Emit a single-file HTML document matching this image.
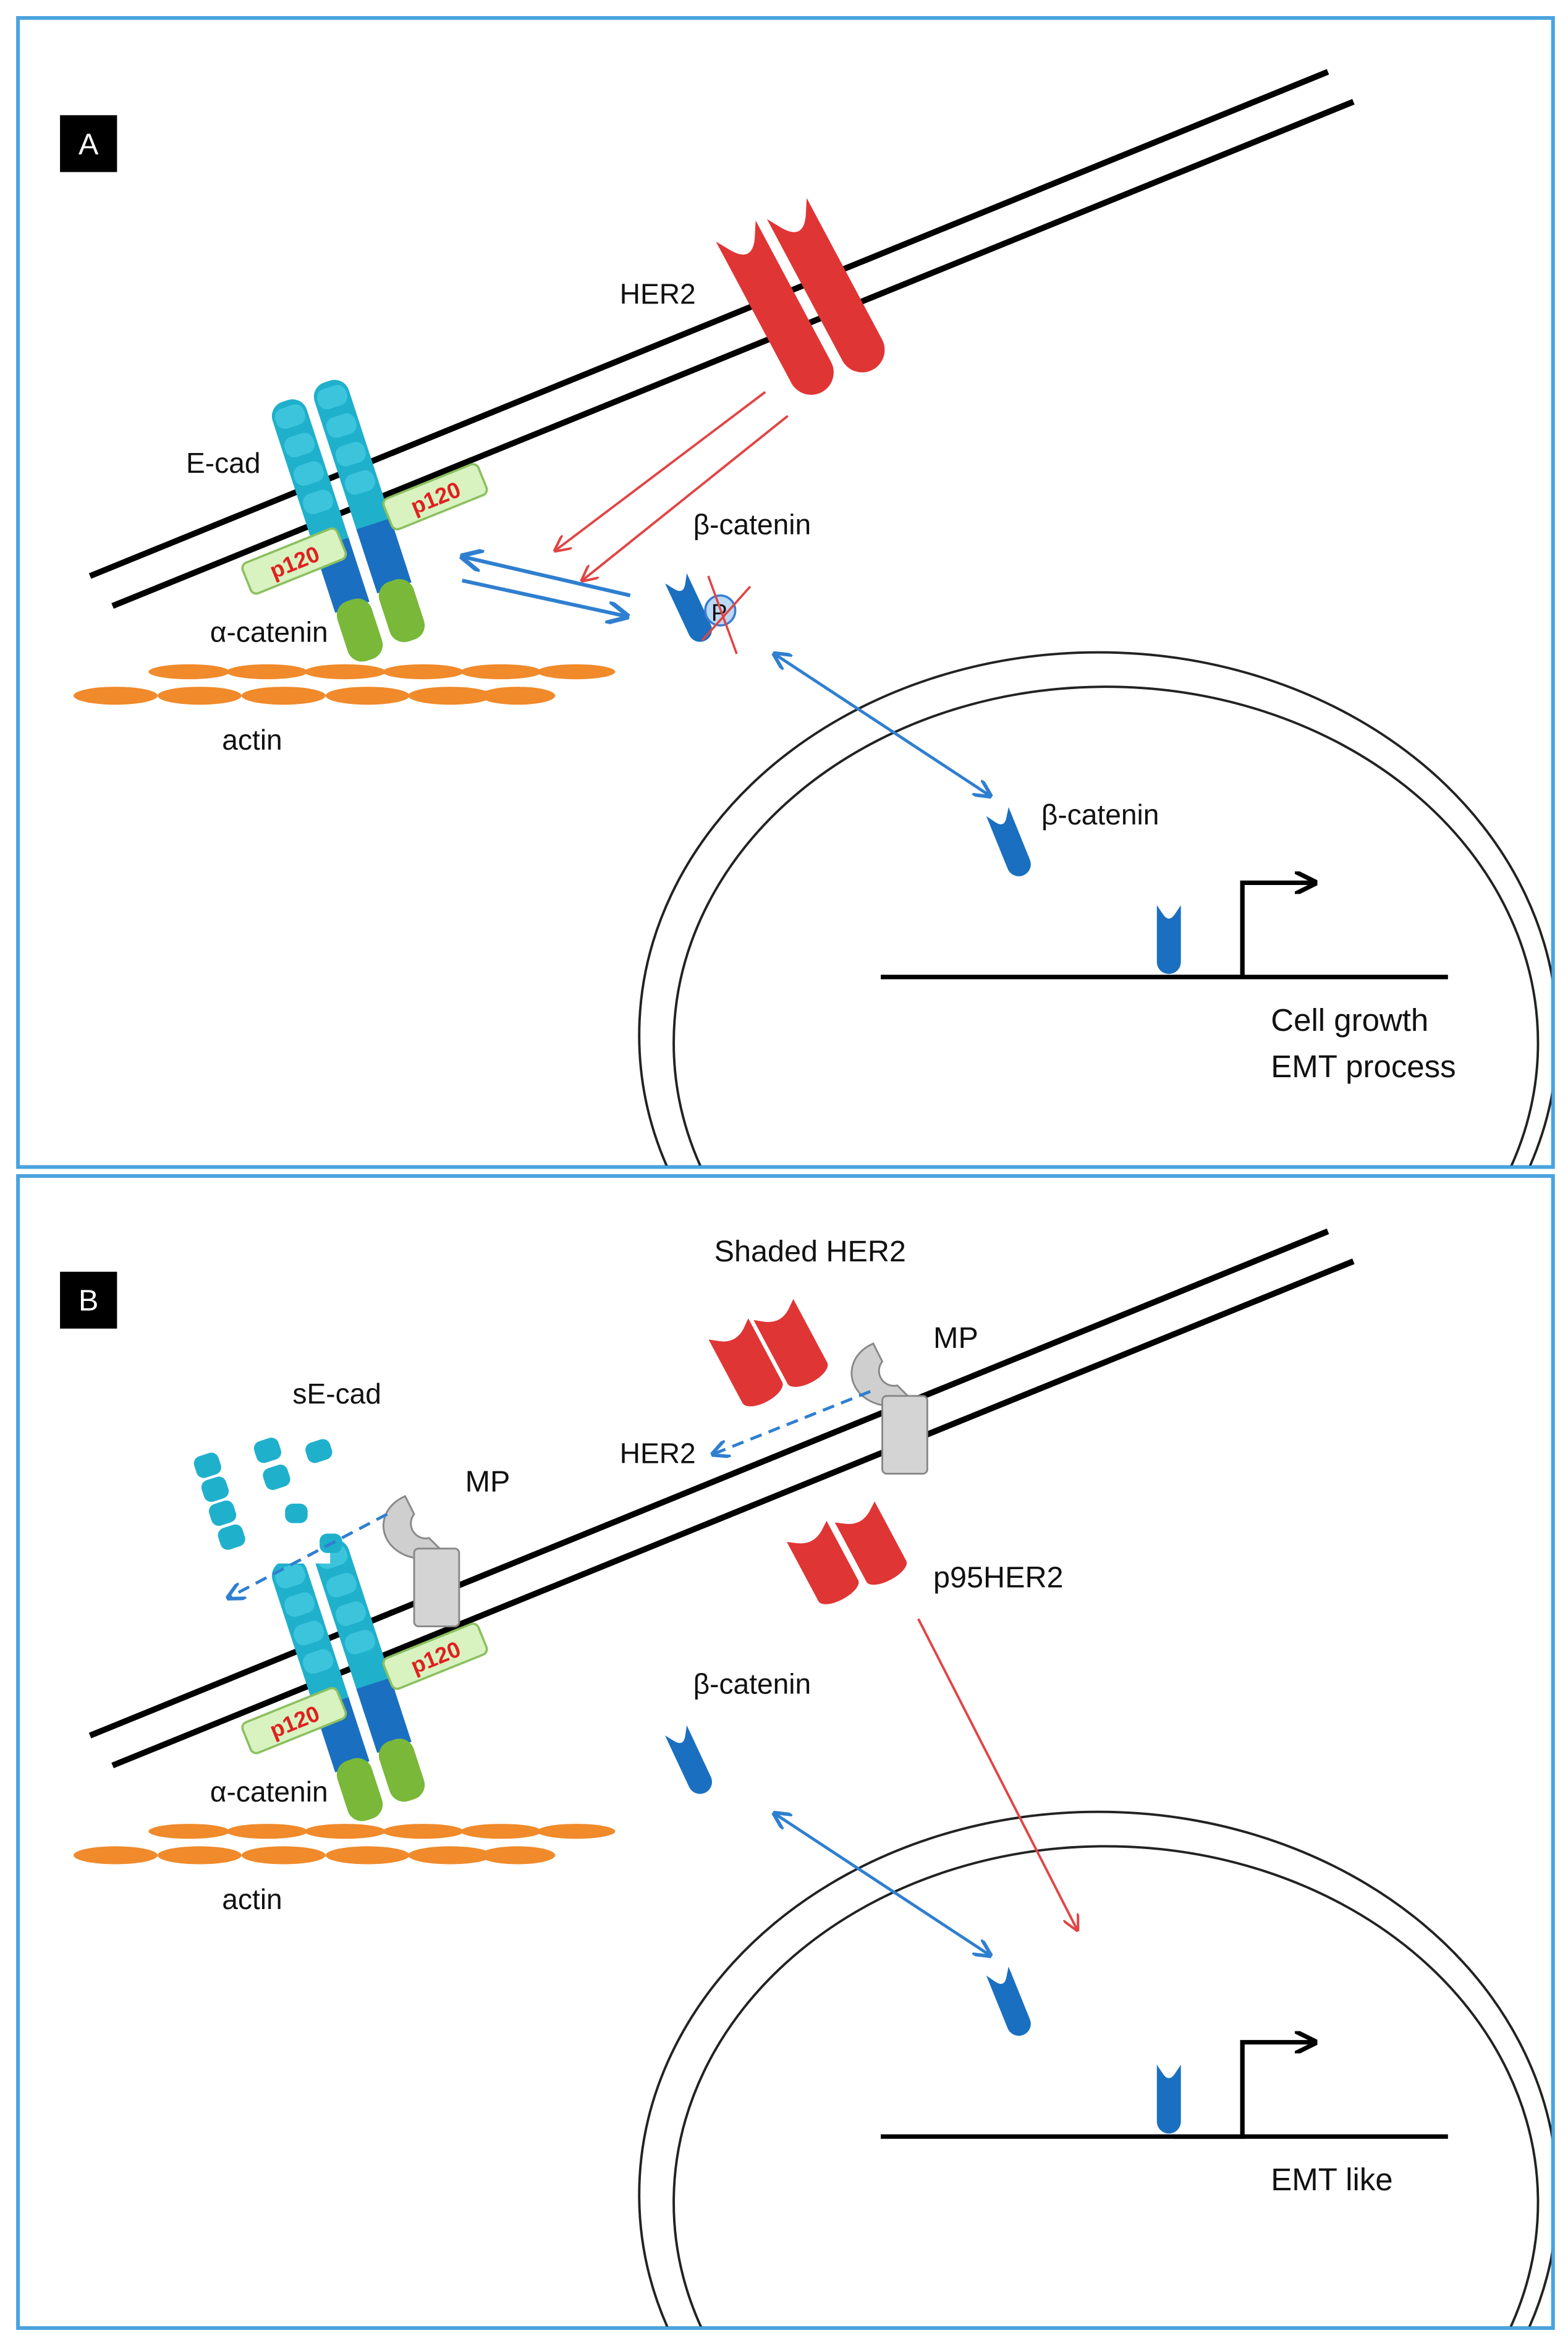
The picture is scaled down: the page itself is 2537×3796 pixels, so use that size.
<!DOCTYPE html>
<html><head><meta charset="utf-8"><style>html,body{margin:0;padding:0;background:#fff;width:2537px;height:3796px;overflow:hidden}svg{display:block}text{font-family:"Liberation Sans",sans-serif;fill:#111}</style></head><body>
<svg width="2537" height="3796" viewBox="0 0 1045 1568" preserveAspectRatio="none" xmlns="http://www.w3.org/2000/svg">
<defs>
<clipPath id="cA"><rect x="13" y="13" width="1021" height="766"/></clipPath>
<clipPath id="cB"><rect x="13" y="787" width="1021" height="768"/></clipPath>
<marker id="ab" viewBox="0 0 10 10" refX="9" refY="5" markerWidth="6" markerHeight="6" orient="auto-start-reverse"><path d="M0,0 L10,5 L0,10" fill="none" stroke="#2f7fd0" stroke-width="2"/></marker>
<marker id="ar" viewBox="0 0 10 10" refX="9" refY="5" markerWidth="7" markerHeight="7" orient="auto"><path d="M0,0 L10,5 L0,10" fill="none" stroke="#e04545" stroke-width="1.5"/></marker>
<marker id="ak" viewBox="0 0 10 10" refX="8" refY="5" markerWidth="5" markerHeight="5" orient="auto"><path d="M0,0 L10,5 L0,10" fill="none" stroke="#000" stroke-width="2"/></marker>
<g id="her">
<path d="M-15,-12 L-9,-2 Q0,12 9,-2 L15,-12 L15,95 A15,15 0 0 1 -15,95 Z" fill="#e03535"/>
</g>
<g id="bcat">
<path d="M-8,-6 L-4,0 Q0,6 4,0 L8,-6 L8,32 A8,8 0 0 1 -8,32 Z" fill="#1a6fc0"/>
</g>
<g id="ecad">
<rect x="-12" y="0" width="24" height="112" rx="10" fill="#1fb0cc"/>
<rect x="-12" y="100" width="24" height="45" fill="#1a6fc0"/>
<rect x="-12" y="140" width="24" height="42" rx="10" fill="#7ab83a"/>
<g fill="#3cc4dc"><rect x="-10" y="4" width="20" height="14" rx="6"/><rect x="-10" y="24" width="20" height="14" rx="6"/><rect x="-10" y="44" width="20" height="14" rx="6"/><rect x="-10" y="64" width="20" height="14" rx="6"/></g>
</g>
<g id="p120"><rect x="-34" y="-11" width="68" height="22" rx="4" fill="#d8f2c0" stroke="#8cc060" stroke-width="1.5"/><text x="0" y="6" font-size="15" font-weight="bold" text-anchor="middle" style="fill:#e02020">p120</text></g>
<g id="actin" fill="#f08a2a">
<ellipse cx="126" cy="449" rx="27" ry="5"/><ellipse cx="178" cy="449" rx="27" ry="5"/><ellipse cx="230" cy="449" rx="27" ry="5"/><ellipse cx="282" cy="449" rx="27" ry="5"/><ellipse cx="334" cy="449" rx="27" ry="5"/><ellipse cx="384" cy="449" rx="26" ry="5"/>
<ellipse cx="77" cy="465" rx="28" ry="6"/><ellipse cx="133" cy="465" rx="28" ry="6"/><ellipse cx="189" cy="465" rx="28" ry="6"/><ellipse cx="245" cy="465" rx="28" ry="6"/><ellipse cx="300" cy="465" rx="28" ry="6"/><ellipse cx="345" cy="465" rx="25" ry="6"/>
</g>
<g id="mp"><path d="M0,0 A26,22 0 1 0 26,38 L16,28 A10,10 0 0 1 6,12 Z" fill="#cfcfcf" stroke="#888" stroke-width="1.2"/><rect x="6" y="35" width="30" height="52" rx="3" fill="#d4d4d4" stroke="#888" stroke-width="1.2"/></g>
</defs>
<rect width="1045" height="1568" fill="#fff"/>
<rect x="12" y="12" width="1023" height="768" fill="none" stroke="#4aa3df" stroke-width="2.5"/>
<rect x="12" y="786" width="1023" height="770" fill="none" stroke="#4aa3df" stroke-width="2.5"/>

<!-- PANEL A -->
<g clip-path="url(#cA)" fill="none" stroke="#222" stroke-width="1.6">
<ellipse cx="732" cy="692" rx="306" ry="256"/><ellipse cx="737" cy="697" rx="288" ry="238"/>
</g>
<line x1="60" y1="385" x2="885" y2="48" stroke="#000" stroke-width="4"/>
<line x1="75" y1="405" x2="902" y2="68" stroke="#000" stroke-width="4"/>
<rect x="40" y="77" width="38" height="38" fill="#000"/><text x="59" y="103" font-size="20" text-anchor="middle" style="fill:#fff">A</text>
<use href="#her" transform="translate(496,165) rotate(-28)"/>
<use href="#her" transform="translate(530,150) rotate(-28)"/>
<use href="#ecad" transform="translate(190,268) rotate(-18)"/>
<use href="#ecad" transform="translate(218,255) rotate(-18)"/>
<use href="#p120" transform="translate(196,375) rotate(-22)"/>
<use href="#p120" transform="translate(290,332) rotate(-22)"/>
<use href="#actin"/>
<line x1="510" y1="262" x2="370" y2="368" stroke="#e04545" stroke-width="1.6" marker-end="url(#ar)"/>
<line x1="525" y1="278" x2="388" y2="388" stroke="#e04545" stroke-width="1.6" marker-end="url(#ar)"/>
<line x1="420" y1="398" x2="308" y2="372" stroke="#2f7fd0" stroke-width="2.5" marker-end="url(#ab)"/>
<line x1="308" y1="388" x2="418" y2="412" stroke="#2f7fd0" stroke-width="2.5" marker-end="url(#ab)"/>
<use href="#bcat" transform="translate(453,392) rotate(-25)"/>
<circle cx="480" cy="408" r="10" fill="#bcd9f5" stroke="#3a7fd0" stroke-width="1.5"/><text x="474" y="415" font-size="16">P</text>
<line x1="472" y1="385" x2="491" y2="437" stroke="#e04545" stroke-width="1.5"/><line x1="500" y1="392" x2="468" y2="428" stroke="#e04545" stroke-width="1.5"/>
<line x1="516" y1="437" x2="660" y2="532" stroke="#2f7fd0" stroke-width="2" marker-start="url(#ab)" marker-end="url(#ab)"/>
<use href="#bcat" transform="translate(667,548) rotate(-22)"/>
<line x1="587" y1="653" x2="965" y2="653" stroke="#000" stroke-width="3"/>
<use href="#bcat" transform="translate(779,611)"/>
<path d="M782,653 L828,653 L828,590 L875,590" fill="none" stroke="#000" stroke-width="3" marker-end="url(#ak)"/>
<text x="413" y="203" font-size="19">HER2</text>
<text x="124" y="316" font-size="19">E-cad</text>
<text x="462" y="357" font-size="19">β-catenin</text>
<text x="140" y="429" font-size="19">α-catenin</text>
<text x="148" y="501" font-size="19">actin</text>
<text x="694" y="551" font-size="19">β-catenin</text>
<text x="847" y="689" font-size="21">Cell growth</text>
<text x="847" y="720" font-size="21">EMT process</text>

<!-- PANEL B -->
<g clip-path="url(#cB)" fill="none" stroke="#222" stroke-width="1.6">
<ellipse cx="732" cy="1467" rx="306" ry="256"/><ellipse cx="737" cy="1472" rx="288" ry="238"/>
</g>
<line x1="60" y1="1160" x2="885" y2="823" stroke="#000" stroke-width="4"/>
<line x1="75" y1="1180" x2="902" y2="843" stroke="#000" stroke-width="4"/>
<rect x="40" y="850" width="38" height="38" fill="#000"/><text x="59" y="876" font-size="20" text-anchor="middle" style="fill:#fff">B</text>
<use href="#ecad" transform="translate(190,1043) rotate(-18)"/>
<use href="#ecad" transform="translate(218,1030) rotate(-18)"/>
<rect x="180" y="1000" width="40" height="45" fill="#fff"/>
<use href="#p120" transform="translate(196,1150) rotate(-22)"/>
<use href="#p120" transform="translate(290,1107) rotate(-22)"/>
<use href="#actin" transform="translate(0,775)"/>
<g fill="#1fb0cc">
<rect x="130" y="972" width="17" height="15" rx="5" transform="rotate(-18 138 980)"/>
<rect x="135" y="988" width="17" height="15" rx="5" transform="rotate(-18 143 996)"/>
<rect x="140" y="1004" width="17" height="15" rx="5" transform="rotate(-18 148 1012)"/>
<rect x="146" y="1020" width="17" height="15" rx="5" transform="rotate(-18 154 1028)"/>
<rect x="170" y="962" width="17" height="15" rx="5" transform="rotate(-18 178 970)"/>
<rect x="176" y="980" width="17" height="15" rx="5" transform="rotate(-18 184 988)"/>
<rect x="204" y="963" width="17" height="14" rx="5" transform="rotate(-18 212 970)"/>
<rect x="190" y="1005" width="15" height="13" rx="5"/>
<rect x="213" y="1025" width="15" height="13" rx="5"/>
</g>
<use href="#mp" transform="translate(270,1000)"/>
<use href="#mp" transform="translate(582,898)"/>
<use href="#her" transform="translate(488,893) rotate(-28) scale(1,0.45)"/>
<use href="#her" transform="translate(518,880) rotate(-28) scale(1,0.45)"/>
<use href="#her" transform="translate(540,1028) rotate(-28) scale(1,0.42)"/>
<use href="#her" transform="translate(572,1015) rotate(-28) scale(1,0.42)"/>
<line x1="580" y1="930" x2="475" y2="972" stroke="#2f7fd0" stroke-width="2" stroke-dasharray="8,5" marker-end="url(#ab)"/>
<line x1="258" y1="1012" x2="152" y2="1068" stroke="#2f7fd0" stroke-width="2" stroke-dasharray="8,5" marker-end="url(#ab)"/>
<line x1="612" y1="1082" x2="718" y2="1290" stroke="#e04545" stroke-width="1.6" marker-end="url(#ar)"/>
<use href="#bcat" transform="translate(453,1162) rotate(-25)"/>
<line x1="516" y1="1212" x2="660" y2="1307" stroke="#2f7fd0" stroke-width="2" marker-start="url(#ab)" marker-end="url(#ab)"/>
<use href="#bcat" transform="translate(667,1323) rotate(-22)"/>
<line x1="587" y1="1428" x2="965" y2="1428" stroke="#000" stroke-width="3"/>
<use href="#bcat" transform="translate(779,1386)"/>
<path d="M782,1428 L828,1428 L828,1365 L875,1365" fill="none" stroke="#000" stroke-width="3" marker-end="url(#ak)"/>
<text x="476" y="843" font-size="20">Shaded HER2</text>
<text x="622" y="901" font-size="20">MP</text>
<text x="195" y="938" font-size="19">sE-cad</text>
<text x="413" y="978" font-size="19">HER2</text>
<text x="310" y="997" font-size="20">MP</text>
<text x="622" y="1061" font-size="20">p95HER2</text>
<text x="462" y="1132" font-size="19">β-catenin</text>
<text x="140" y="1204" font-size="19">α-catenin</text>
<text x="148" y="1276" font-size="19">actin</text>
<text x="847" y="1464" font-size="21">EMT like</text>
</svg>
</body></html>
